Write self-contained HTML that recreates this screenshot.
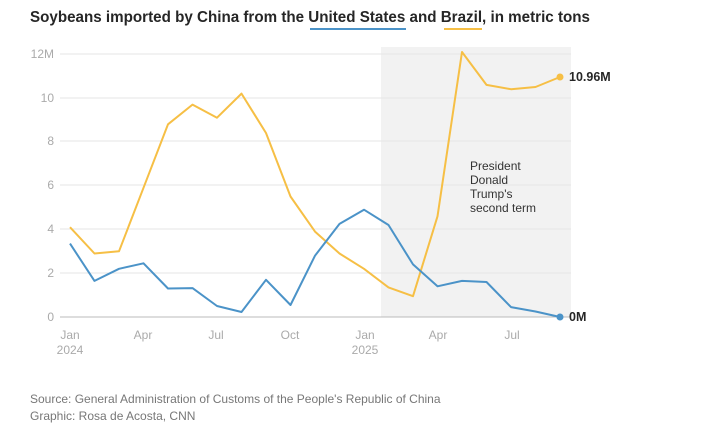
<!DOCTYPE html>
<html><head><meta charset="utf-8"><style>
body{margin:0;background:#fff;width:720px;height:437px;overflow:hidden;font-family:"Liberation Sans",sans-serif;}
</style></head><body>
<svg width="720" height="437" xmlns="http://www.w3.org/2000/svg" font-family="Liberation Sans, sans-serif">
<text x="30" y="22" font-size="15.5" font-weight="bold" fill="#262626" textLength="560" lengthAdjust="spacingAndGlyphs">Soybeans imported by China from the United States and Brazil, in metric tons</text>
<line x1="310" y1="29" x2="406" y2="29" stroke="#4b93c8" stroke-width="2"/>
<line x1="444" y1="29" x2="482" y2="29" stroke="#f6bf45" stroke-width="2"/>
<rect x="381" y="47" width="190" height="270" fill="#f2f2f2"/>
<g stroke="#e6e6e6" stroke-width="1">
<line x1="60" y1="54" x2="571" y2="54"/><line x1="60" y1="98" x2="571" y2="98"/><line x1="60" y1="141" x2="571" y2="141"/><line x1="60" y1="185" x2="571" y2="185"/><line x1="60" y1="229" x2="571" y2="229"/><line x1="60" y1="273" x2="571" y2="273"/>
</g>
<line x1="60" y1="317" x2="571" y2="317" stroke="#bbb"/>
<g font-size="12" fill="#aaa" text-anchor="end">
<text x="54" y="58">12M</text><text x="54" y="102">10</text><text x="54" y="145">8</text><text x="54" y="189">6</text><text x="54" y="233">4</text><text x="54" y="277">2</text><text x="54" y="321">0</text>
</g>
<g font-size="12" fill="#aaa" text-anchor="middle">
<text x="70" y="339">Jan</text><text x="70" y="354">2024</text><text x="143" y="339">Apr</text><text x="216" y="339">Jul</text><text x="290" y="339">Oct</text><text x="365" y="339">Jan</text><text x="365" y="354">2025</text><text x="438" y="339">Apr</text><text x="512" y="339">Jul</text>
</g>
<g font-size="12" fill="#333">
<text x="470" y="170">President</text><text x="470" y="184">Donald</text><text x="470" y="198">Trump's</text><text x="470" y="212">second term</text>
</g>
<polyline fill="none" stroke="#f6bf45" stroke-width="2" stroke-linejoin="round" points="70,227.2 94.5,253.5 119,251.3 143.5,187.8 168,124.3 192.5,104.6 217,117.7 241.5,93.6 266,133 290.5,196.5 315,231.6 339.5,253.5 364,268.8 388.5,287.4 413,296.2 437.5,216.3 462,52 486.5,84.9 511,89.2 535.5,87 560,77"/>
<polyline fill="none" stroke="#4b93c8" stroke-width="2" stroke-linejoin="round" points="70,243.6 94.5,280.9 119,268.8 143.5,263.3 168,288.5 192.5,288.1 217,306 241.5,312 266,279.8 290.5,305 315,255.7 339.5,223.9 364,209.7 388.5,225 413,264.4 437.5,286.3 462,280.9 486.5,282 511,307.1 535.5,311.5 560,317"/>
<circle cx="560" cy="77" r="3.5" fill="#f6bf45"/>
<circle cx="560" cy="317" r="3.5" fill="#4b93c8"/>
<text x="569" y="81" font-size="12.5" font-weight="bold" fill="#262626">10.96M</text>
<text x="569" y="321" font-size="12.5" font-weight="bold" fill="#262626">0M</text>
<text x="30" y="403" font-size="12" fill="#777">Source: General Administration of Customs of the People's Republic of China</text>
<text x="30" y="420" font-size="12" fill="#777">Graphic: Rosa de Acosta, CNN</text>
</svg>
</body></html>
